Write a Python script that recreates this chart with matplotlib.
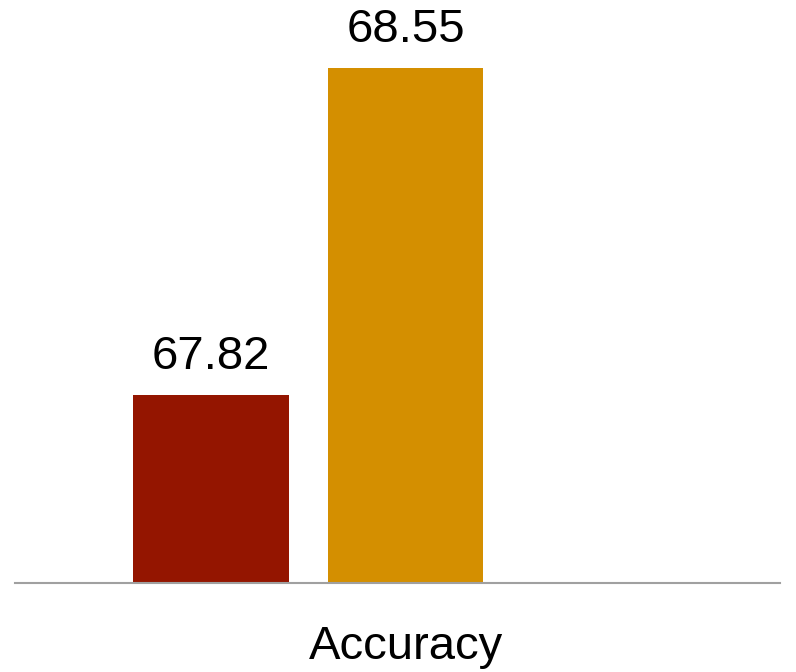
import matplotlib.pyplot as plt

categories = ["Accuracy"]
series_a = [67.82]
series_b = [68.55]
colors = ["#941500", "#D48F00"]

plt.rcParams['font.family'] = ['Liberation Sans', 'DejaVu Sans']

fig = plt.figure(figsize=(7.96, 6.72), dpi=100)
ax = fig.add_axes([15 / 796, 89 / 672, 765 / 796, 582 / 672])

base = 67.40
x = 0
width = 0.8
vals = [series_a[0], series_b[0]]
offsets = [-1, 0]
for off, v, c in zip(offsets, vals, colors):
    ax.bar(x + off, v - base, bottom=base, width=width, color=c)
    ax.text(x + off, v + 0.036, f"{v:.2f}", ha='center', va='bottom', fontsize=34)

ax.set_xlim(-2.008, 1.925)
ax.set_ylim(base, 68.70)

for s in ['top', 'right', 'left']:
    ax.spines[s].set_visible(False)
ax.spines['bottom'].set_color('#a0a0a0')
ax.spines['bottom'].set_linewidth(1.5)
ax.set_yticks([])
ax.set_xticks([x])
ax.set_xticklabels(categories, fontsize=34)
ax.tick_params(axis='x', length=0, pad=30)

fig.savefig("out.png", dpi=100)
